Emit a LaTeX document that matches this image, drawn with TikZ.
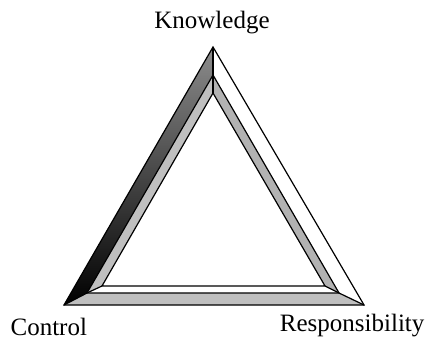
\documentclass[tikz,border=0pt]{standalone}
\usepackage{fontspec}
\setmainfont{Liberation Serif}
\usepackage{tikz}
\usetikzlibrary{calc}

\begin{document}
\begin{tikzpicture}[x=1pt,y=-1pt,line width=1.2pt,line join=miter,font=\fontsize{25}{30}\selectfont]
\useasboundingbox (0,0) rectangle (427,344);
\coordinate (oA) at (213,47);
\coordinate (oB) at (64,305);
\coordinate (oC) at (364,305);
\coordinate (mA) at (213,75);
\coordinate (mB) at (87,293);
\coordinate (mC) at (339,293);
\coordinate (iA) at (213,93);
\coordinate (iB) at (102,286);
\coordinate (iC) at (325,286);
\shade[top color=black!45,bottom color=black] (oA)--(oB)--(mB)--(mA)--cycle;
\fill[black!25] (mA)--(mB)--(iB)--(iA)--cycle;
\fill[white] (oA)--(oC)--(mC)--(mA)--cycle;
\fill[black!30] (mA)--(mC)--(iC)--(iA)--cycle;
\fill[black!25] (oB)--(oC)--(mC)--(mB)--cycle;
\fill[white] (mB)--(mC)--(iC)--(iB)--cycle;
\draw (oA)--(oB)--(oC)--cycle;
\draw (mA)--(mB)--(mC)--cycle;
\draw (iA)--(iB)--(iC)--cycle;
\draw (oA)--(mA)--(iA);
\draw (oB)--(mB)--(iB);
\draw (oC)--(mC)--(iC);
\node[anchor=base,inner sep=0] (know) at (212,29) {Knowledge};
\node[anchor=base west,inner sep=0] (ctrl) at (10,335) {Control};
\node[anchor=base east,inner sep=0] (resp) at (425,331) {Responsibility};
\end{tikzpicture}
\end{document}
